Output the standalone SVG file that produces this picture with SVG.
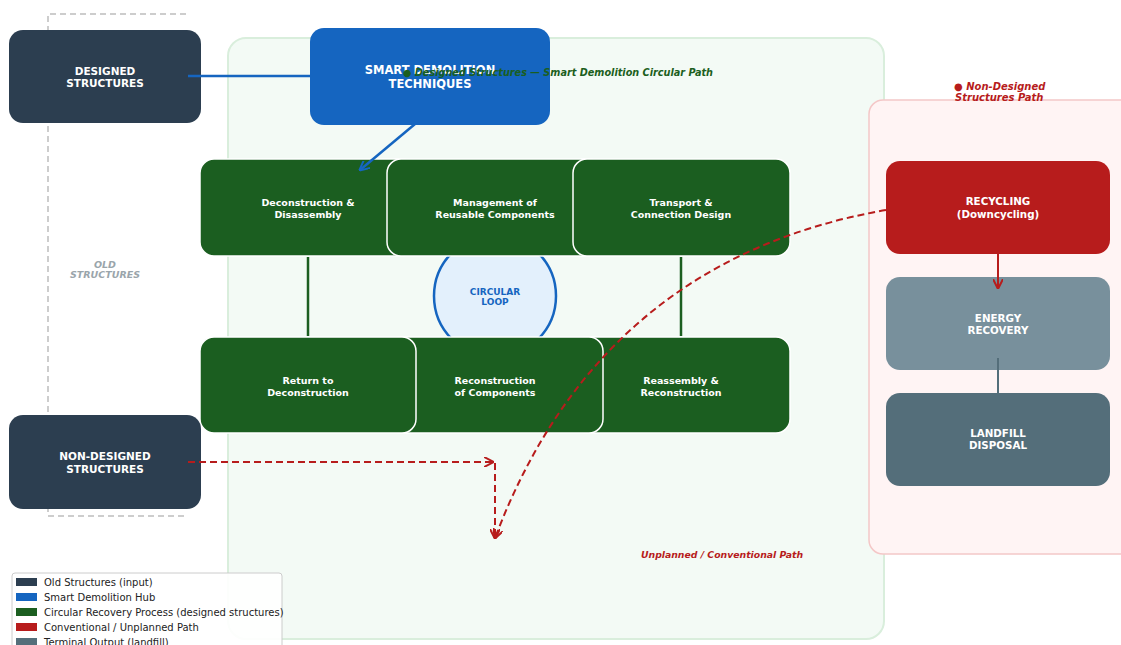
<svg xmlns="http://www.w3.org/2000/svg" width="1121" height="645" viewBox="0 0 1121 645">
<defs>
<style>
text{font-family:"DejaVu Sans","Liberation Sans",sans-serif;font-weight:bold;text-anchor:middle}
.wt{fill:#fff}
.dark{fill:#2c3e50}
.green{fill:#1b5e20;stroke:#fff;stroke-width:1.5}
.g{font-size:9.5px;fill:#fff}
.lg{font-weight:normal;text-anchor:start;font-size:10px;fill:#222}
</style>
<marker id="ab" viewBox="0 0 10 10" refX="9" refY="5" markerWidth="10" markerHeight="10" orient="auto" markerUnits="userSpaceOnUse"><path d="M0,0 L10,5 L0,10" fill="none" stroke="#1565c0" stroke-width="2"/></marker>
<marker id="ar" viewBox="0 0 10 10" refX="9" refY="5" markerWidth="10" markerHeight="10" orient="auto" markerUnits="userSpaceOnUse"><path d="M0,0 L10,5 L0,10" fill="none" stroke="#b71c1c" stroke-width="2"/></marker>
</defs>
<rect width="1121" height="645" fill="#fff"/>
<g id="old-structures-frame">
<path d="M186 14 H48 V516 H186" fill="none" stroke="#bdbdbd" stroke-width="1.5" stroke-dasharray="6,4"/>
<text x="105" y="268" font-size="9.5" font-style="italic" fill="#9aa5ab">OLD</text>
<text x="105" y="278" font-size="9.5" font-style="italic" fill="#9aa5ab">STRUCTURES</text>
</g>
<g id="designed-container">
<rect x="228" y="38" width="656" height="601" rx="18" fill="#f3faf5" stroke="#d9eedc" stroke-width="2"/>
</g>
<g id="nondesigned-container">
<rect x="869" y="100" width="270" height="454" rx="14" fill="#fff4f4" stroke="#f4c7c7" stroke-width="1.5"/>
<text x="954" y="90" font-size="10" font-style="italic" fill="#b71c1c" style="text-anchor:start">● Non-Designed</text>
<text x="955" y="101" font-size="10" font-style="italic" fill="#b71c1c" style="text-anchor:start">Structures Path</text>
</g>
<g id="circular-loop">
<circle cx="495" cy="296" r="61" fill="#e3f0fc" stroke="#1565c0" stroke-width="2.5"/>
<text x="495" y="295" font-size="9" fill="#1565c0">CIRCULAR</text>
<text x="495" y="305" font-size="9" fill="#1565c0">LOOP</text>
</g>
<g id="designed-structures"><rect x="9" y="30" width="192" height="93" rx="14" class="dark"/>
<text x="105" y="75" font-size="10.5" class="wt">DESIGNED</text><text x="105" y="87" font-size="10.5" class="wt">STRUCTURES</text></g>
<g id="smart-demolition"><rect x="310" y="28" width="240" height="97" rx="14" fill="#1565c0"/>
<text x="430" y="74" font-size="11.5" class="wt">SMART DEMOLITION</text><text x="430" y="88" font-size="11.5" class="wt">TECHNIQUES</text></g>
<text x="558" y="76" font-size="9.7" font-style="italic" fill="#1b5e20">● Designed Structures — Smart Demolition Circular Path</text>
<g id="deconstruction"><rect x="200" y="159" width="216" height="97" rx="14" class="green"/>
<text x="308" y="206" class="g">Deconstruction &amp;</text><text x="308" y="218" class="g">Disassembly</text></g>
<g id="management"><rect x="387" y="159" width="216" height="97" rx="14" class="green"/>
<text x="495" y="206" class="g">Management of</text><text x="495" y="218" class="g">Reusable Components</text></g>
<g id="transport"><rect x="573" y="159" width="217" height="97" rx="14" class="green"/>
<text x="681" y="206" class="g">Transport &amp;</text><text x="681" y="218" class="g">Connection Design</text></g>
<g id="reassembly"><rect x="573" y="337" width="217" height="96" rx="14" class="green"/>
<text x="681" y="384" class="g">Reassembly &amp;</text><text x="681" y="396" class="g">Reconstruction</text></g>
<g id="reconstruction"><rect x="387" y="337" width="216" height="96" rx="14" class="green"/>
<text x="495" y="384" class="g">Reconstruction</text><text x="495" y="396" class="g">of Components</text></g>
<g id="return"><rect x="200" y="337" width="216" height="96" rx="14" class="green"/>
<text x="308" y="384" class="g">Return to</text><text x="308" y="396" class="g">Deconstruction</text></g>
<g id="non-designed-structures"><rect x="9" y="415" width="192" height="94" rx="14" class="dark"/>
<text x="105" y="460" font-size="10.5" class="wt">NON-DESIGNED</text><text x="105" y="473" font-size="10.5" class="wt">STRUCTURES</text></g>
<g id="recycling"><rect x="886" y="161" width="224" height="93" rx="14" fill="#b71c1c"/>
<text x="998" y="205" font-size="10.3" class="wt">RECYCLING</text><text x="998" y="218" font-size="10.3" class="wt">(Downcycling)</text></g>
<g id="energy-recovery"><rect x="886" y="277" width="224" height="93" rx="14" fill="#78909c"/>
<text x="998" y="322" font-size="10.3" class="wt">ENERGY</text><text x="998" y="334" font-size="10.3" class="wt">RECOVERY</text></g>
<g id="landfill"><rect x="886" y="393" width="224" height="93" rx="14" fill="#546e7a"/>
<text x="998" y="437" font-size="10.3" class="wt">LANDFILL</text><text x="998" y="449" font-size="10.3" class="wt">DISPOSAL</text></g>
<g id="connectors" fill="none">
<line x1="188" y1="76" x2="310" y2="76" stroke="#1565c0" stroke-width="2.5"/>
<line x1="415" y1="124" x2="360" y2="170" stroke="#1565c0" stroke-width="2.5" marker-end="url(#ab)"/>
<line x1="308" y1="257" x2="308" y2="336" stroke="#1b5e20" stroke-width="2.5"/>
<line x1="681" y1="257" x2="681" y2="336" stroke="#1b5e20" stroke-width="2.5"/>
<line x1="998" y1="254" x2="998" y2="288" stroke="#b71c1c" stroke-width="2" marker-end="url(#ar)"/>
<line x1="998" y1="358" x2="998" y2="393" stroke="#546e7a" stroke-width="2"/>
<g stroke="#b71c1c" stroke-width="2" stroke-dasharray="7,4">
<path d="M886 210 Q600 260 495 538" marker-end="url(#ar)"/>
<path d="M188 462 H493" marker-end="url(#ar)"/>
<path d="M495 463 V538" marker-end="url(#ar)"/>
</g>
</g>
<text x="722" y="558" font-size="9.3" font-style="italic" fill="#b71c1c">Unplanned / Conventional Path</text>
<g id="legend">
<rect x="12" y="573" width="270" height="85" rx="3" fill="#fff" fill-opacity="0.9" stroke="#ccc"/>
<rect x="16" y="578" width="21" height="8" fill="#2c3e50"/><text x="44" y="586" class="lg">Old Structures (input)</text>
<rect x="16" y="593" width="21" height="8" fill="#1565c0"/><text x="44" y="601" class="lg">Smart Demolition Hub</text>
<rect x="16" y="608" width="21" height="8" fill="#1b5e20"/><text x="44" y="616" class="lg">Circular Recovery Process (designed structures)</text>
<rect x="16" y="623" width="21" height="8" fill="#b71c1c"/><text x="44" y="631" class="lg">Conventional / Unplanned Path</text>
<rect x="16" y="638" width="21" height="8" fill="#546e7a"/><text x="44" y="646" class="lg">Terminal Output (landfill)</text>
</g>
</svg>
